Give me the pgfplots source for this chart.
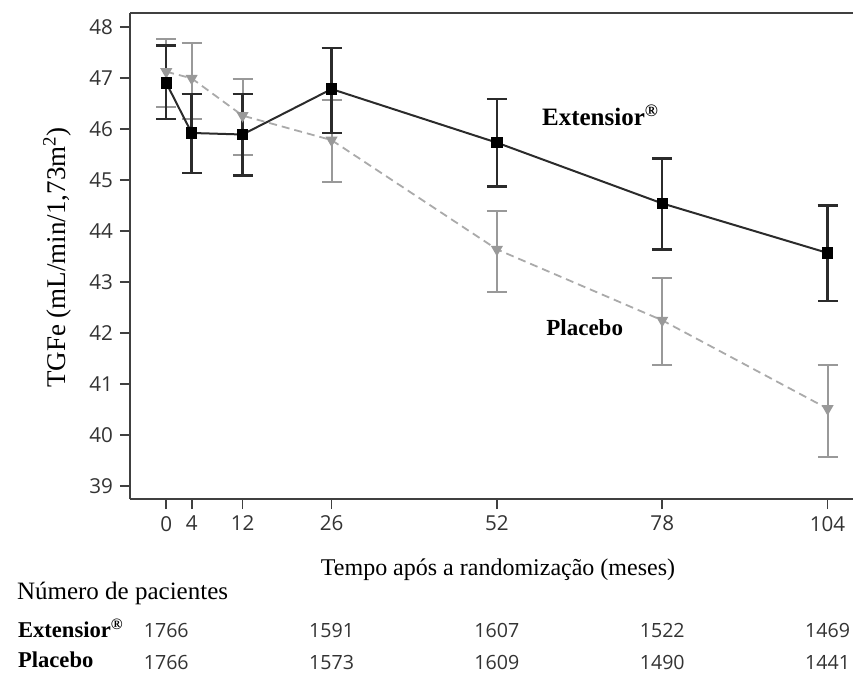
\documentclass[border=0pt]{standalone}
\usepackage{pgfplots}
\pgfplotsset{compat=1.18}
\usepackage{pgfplotstable}
\usepackage{fontspec}
\setmainfont{Liberation Serif}
\newfontfamily\tickfont{Open Sans}
\definecolor{ext}{HTML}{2B2B2B}
\definecolor{plc}{HTML}{999999}
\definecolor{plcl}{HTML}{AAAAAA}
\definecolor{axc}{HTML}{404040}
\definecolor{numc}{HTML}{333333}

\pgfplotstableread{
x y ep em
0 46.90 0.73 0.71
4 45.92 0.76 0.78
12 45.89 0.79 0.80
26 46.78 0.81 0.86
52 45.73 0.85 0.86
78 44.54 0.88 0.90
104 43.57 0.93 0.94
}\extdata

\pgfplotstableread{
x y ep em
0 47.12 0.64 0.70
4 46.99 0.69 0.79
12 46.26 0.72 0.78
26 45.78 0.79 0.83
52 43.64 0.76 0.84
78 42.25 0.82 0.87
104 40.52 0.86 0.95
}\plcdata

\tikzset{numlab/.style={anchor=base, font=\tickfont\fontsize{9.8}{11}\selectfont, text=numc}}

\begin{document}
\begin{tikzpicture}
\useasboundingbox (-65pt,-87.5pt) rectangle (362pt,249.5pt);
\begin{axis}[
  scale only axis,
  width=361.5pt, height=243pt,
  xmin=-5.7, xmax=108, ymin=38.75, ymax=48.27,
  axis lines*=left,
  xtick={0,4,12,26,52,78,104},
  ytick={39,40,...,48},
  tick align=outside,
  major tick length=5pt,
  tick style={axc, line width=0.9pt},
  axis line style={axc, line width=1.1pt},
  ticklabel style={font=\tickfont\fontsize{10.3}{12}\selectfont, text=numc},
  /pgf/number format/assume math mode=true,
  clip=false,
]
\draw[axc, line width=1.1pt] (rel axis cs:0,1) -- (rel axis cs:1,1);

\addplot[plcl, line width=0.9pt, dash pattern=on 4pt off 2.5pt,
  mark=triangle*, mark size=2.6pt,
  mark options={plc, fill=plc, solid, rotate=180},
  error bars/.cd, y dir=both, y explicit,
  error bar style={plc, line width=1pt, solid},
  error mark options={rotate=90, mark size=5pt, plc, line width=1pt, solid}]
  table[x=x, y=y, y error plus=ep, y error minus=em] {\plcdata};

\addplot[ext, line width=1pt,
  mark=square*, mark size=2.3pt,
  mark options={black, fill=black},
  error bars/.cd, y dir=both, y explicit,
  error bar style={ext, line width=1.2pt},
  error mark options={rotate=90, mark size=5pt, ext, line width=1.2pt}]
  table[x=x, y=y, y error plus=ep, y error minus=em] {\extdata};

\node[font=\bfseries\fontsize{12.5}{14}\selectfont] at (axis cs:68.3,46.27) {Extensior\textsuperscript{\textregistered}};
\node[font=\bfseries\fontsize{11.5}{14}\selectfont] at (axis cs:65.8,42.10) {Placebo};

\node[numlab, yshift=-69pt] at (axis cs:0,38.75) {1766};
\node[numlab, yshift=-69pt] at (axis cs:26,38.75) {1591};
\node[numlab, yshift=-69pt] at (axis cs:52,38.75) {1607};
\node[numlab, yshift=-69pt] at (axis cs:78,38.75) {1522};
\node[numlab, yshift=-69pt] at (axis cs:104,38.75) {1469};
\node[numlab, yshift=-85pt] at (axis cs:0,38.75) {1766};
\node[numlab, yshift=-85pt] at (axis cs:26,38.75) {1573};
\node[numlab, yshift=-85pt] at (axis cs:52,38.75) {1609};
\node[numlab, yshift=-85pt] at (axis cs:78,38.75) {1490};
\node[numlab, yshift=-85pt] at (axis cs:104,38.75) {1441};
\end{axis}
\node[rotate=90, anchor=base, font=\fontsize{13.5}{16}\selectfont] at (-32pt,120.75pt) {TGFe (mL/min/1,73m\textsuperscript{2})};
\node[anchor=base, font=\fontsize{12}{14}\selectfont] at (184pt,-38pt) {Tempo após a randomização (meses)};
\node[anchor=base west, font=\fontsize{12.5}{14}\selectfont] at (-60pt,-50pt) {Número de pacientes};
\node[anchor=base west, font=\bfseries\fontsize{11.3}{14}\selectfont] at (-59.5pt,-69pt) {Extensior\textsuperscript{\textregistered}};
\node[anchor=base west, font=\bfseries\fontsize{11.3}{14}\selectfont] at (-59.5pt,-84pt) {Placebo};
\end{tikzpicture}
\end{document}
